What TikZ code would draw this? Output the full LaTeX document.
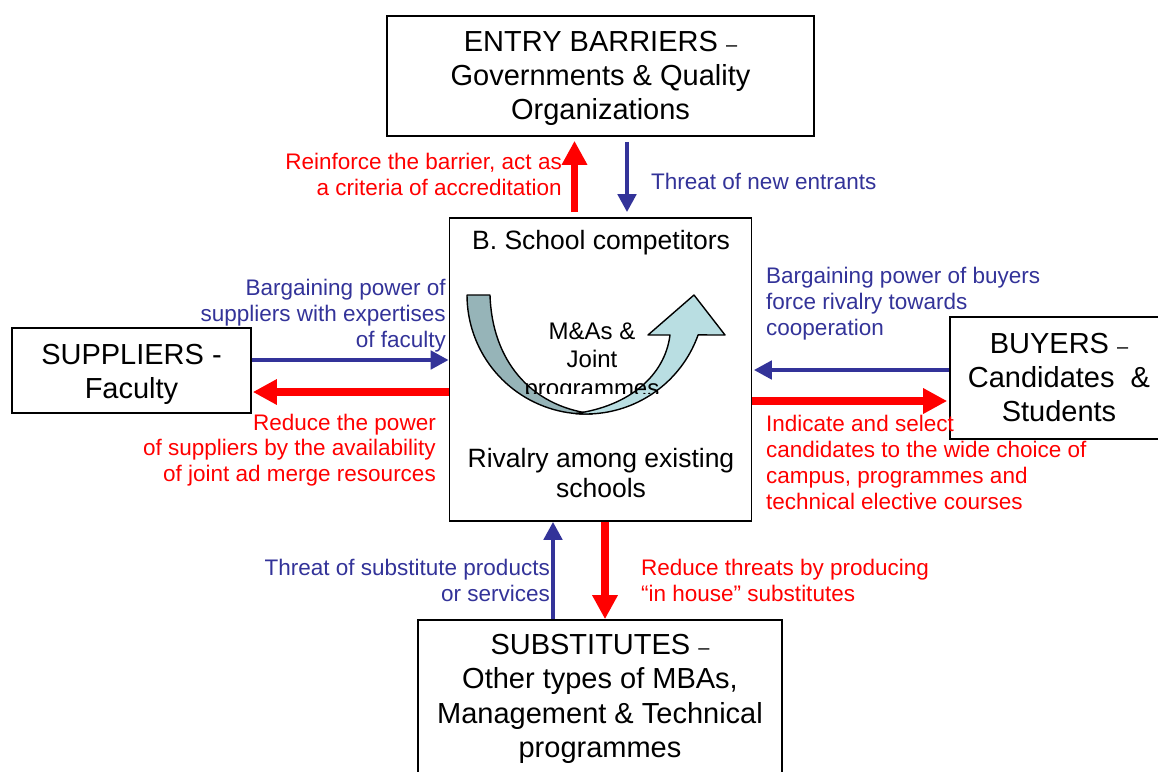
\documentclass[tikz,border=0pt]{standalone}
\usepackage{fontspec}
\setmainfont{Liberation Sans}
\usetikzlibrary{arrows.meta}
\definecolor{pblue}{RGB}{51,51,153}
\definecolor{pred}{RGB}{255,0,0}
\definecolor{darkband}{RGB}{150,180,184}
\definecolor{lightband}{RGB}{185,222,226}
\begin{document}
\begin{tikzpicture}[x=1pt,y=-1pt,
  box/.style={draw=black,line width=1.6pt,fill=white,inner sep=0pt,align=center},
  bigfont/.style={font=\fontsize{29}{34}\selectfont,align=center,inner sep=0pt},
  midfont/.style={font=\fontsize{26.5}{30.5}\selectfont,align=center,inner sep=0pt},
  lbl/.style={font=\fontsize{22.5}{25.8}\selectfont,inner sep=0pt},
  bluelbl/.style={lbl,text=pblue},
  redlbl/.style={lbl,text=pred},
  bluearr/.style={draw=pblue,line width=4.5pt,-{Triangle[width=18pt,length=18pt]}},
  redarr/.style={draw=pred,line width=7.5pt,-{Triangle[width=24pt,length=24pt]}},
  band/.style={draw=black,line width=1.4pt,line join=round}]
\useasboundingbox[fill=white] (0,0) rectangle (1158,771);

% labels
\node[redlbl,anchor=east,align=right] (l1) at (562,174.5) {Reinforce the barrier, act as\\a criteria of accreditation};
\node[bluelbl,anchor=west,align=left] (l2) at (651,181) {Threat of new entrants};
\node[bluelbl,anchor=east,align=right] (l3) at (446,315.5) {Bargaining power of\\suppliers with expertises\\of faculty};
\node[redlbl,anchor=east,align=right] (l4) at (436,450) {Reduce the power\\of suppliers by the availability\\of joint ad merge resources};
\node[bluelbl,anchor=west,align=left] (l5) at (766,303.5) {Bargaining power of buyers\\force rivalry towards\\cooperation};
\node[bluelbl,anchor=east,align=right] (l7) at (550,580.5) {Threat of substitute products\\or services};
\node[redlbl,anchor=west,align=left] (l8) at (641,580.5) {Reduce threats by producing\\``in house'' substitutes};

% boxes
\node[box,bigfont,minimum width=427pt,minimum height=120pt] (entry) at (600.5,76) {};
\node[bigfont] (entryt) at (600.5,78)
  {ENTRY BARRIERS {\fontsize{20}{20}\selectfont\textendash}\\Governments \& Quality\\Organizations};
\node[box,minimum width=302pt,minimum height=303pt] (ctr) at (600.5,369.5) {};
\node[box,minimum width=239pt,minimum height=85pt] (sup) at (131.5,370.5) {};
\node[bigfont] (supt) at (131.5,374) {SUPPLIERS -\\Faculty};
\node[box,bigfont,minimum width=218pt,minimum height=122pt] (buy) at (1059,378)
  {BUYERS {\fontsize{20}{20}\selectfont\textendash}\\Candidates~~\&\\Students};
\node[box,minimum width=364pt,minimum height=210pt] (sub) at (600,725) {};
\node[bigfont,font=\fontsize{29}{34.5}\selectfont] (subt) at (600,699)
  {SUBSTITUTES {\fontsize{20}{20}\selectfont\textendash}\\Other types of MBAs,\\Management \& Technical\\programmes};

% label drawn over the buyers box edge
\node[redlbl,anchor=west,align=left] (l6) at (766,462.5) {Indicate and select\\candidates to the wide choice of\\campus, programmes and\\technical elective courses};

% centre box texts
\node[midfont] (ct1) at (601,243) {B. School competitors};
\node[midfont] (ct2) at (601,473) {Rivalry among existing\\schools};

% curved arrow
\filldraw[band,fill=darkband] (467,295) -- (490,295) .. controls (492,360) and (530,406) .. (592.2,413.8)
  -- plot[domain=87:180,samples=40] ({586+119*cos(\x)},{295+119*sin(\x)}) -- cycle;
\filldraw[band,fill=lightband] plot[domain=95:19.6,samples=40] ({586+119*cos(\x)},{295+119*sin(\x)})
  -- (725,335) -- (694,295) -- (648,335) -- (670,335)
  .. controls (665,375) and (630,406) .. (575.6,413.5) -- cycle;
\begin{scope}
  \clip (450,300) rectangle (750,393);
  \node[font=\fontsize{24}{28.5}\selectfont,align=center,inner sep=0pt] (ma) at (592,362) {M\&As \&\\Joint\\programmes};
\end{scope}

% connectors
\draw[redarr,shorten >=4pt] (ctr.north) ++(-26,-5) coordinate (r1) -- (r1 |- entry.south);
\draw[bluearr,shorten >=5pt] (entry.south) ++(26.5,5) coordinate (b1) -- (b1 |- ctr.north);
\draw[bluearr] (sup.east) ++(0,-10.5) coordinate (b2) -- (b2 -| ctr.west);
\draw[redarr,shorten >=1pt] (ctr.west) ++(0,22.5) coordinate (r2) -- (r2 -| sup.east);
\draw[bluearr,shorten >=1.5pt] (buy.west) ++(0,-8) coordinate (b3) -- (b3 -| ctr.east);
\draw[redarr,shorten >=2pt] (ctr.east) ++(0,31.5) coordinate (r3) -- (r3 -| buy.west);
\draw[bluearr] (sub.north) ++(-47,0) coordinate (b4) -- (b4 |- ctr.south);
\draw[redarr] (ctr.south) ++(4.5,0) coordinate (r4) -- (r4 |- sub.north);
\end{tikzpicture}
\end{document}
